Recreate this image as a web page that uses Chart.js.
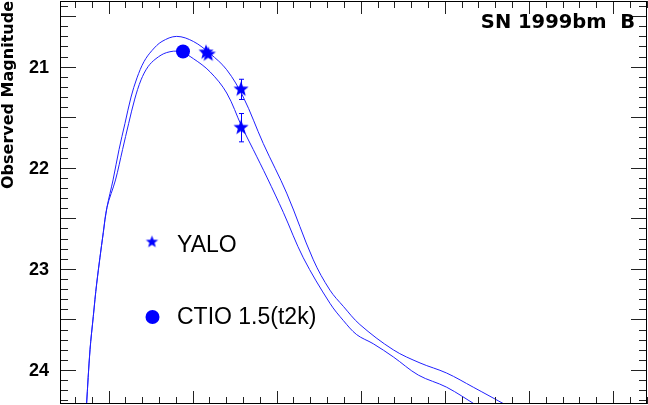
<!DOCTYPE html>
<html lang="en">
<head>
    <meta charset="UTF-8">
    <title>SN 1999bm B</title>
    <style>
        * { margin: 0; padding: 0; box-sizing: border-box; }
        body { background: #FFFFFF; width: 648px; height: 405px; overflow: hidden; }
        .chart-container { position: relative; width: 648px; height: 405px; }
    </style>
</head>
<body>
    <div class="chart-container">
        <canvas id="lc"></canvas>
    </div>

    <script src="https://cdn.jsdelivr.net/npm/chart.js@4.4.0/dist/chart.umd.min.js"></script>
    <script>
        // light curve fits (days, magnitude)
        const upperX = [-2.62, -2.20, -1.81, -1.40, -0.62, -0.18, 0.54, 1.25, 1.96, 2.68, 3.39, 4.22, 5.17, 6.36, 8.11, 10.09, 12.07, 14.06, 16.03, 18.41, 21.19, 24.36, 26.34, 27.93, 29.90, 33.87, 37.05, 40.22, 43.39, 47.36];
        const upperY = [24.35, 23.80, 23.47, 23.14, 22.64, 22.39, 22.12, 21.82, 21.56, 21.30, 21.11, 20.95, 20.84, 20.75, 20.70, 20.75, 20.87, 21.03, 21.30, 21.76, 22.25, 22.91, 23.21, 23.37, 23.55, 23.80, 23.93, 24.03, 24.17, 24.35];
        const lowerX = [-2.62, -2.20, -1.81, -1.40, -0.62, -0.18, 0.83, 1.67, 2.40, 3.12, 3.87, 4.70, 5.65, 6.92, 8.50, 10.09, 12.07, 14.06, 15.84, 17.22, 18.88, 20.79, 23.17, 26.34, 27.93, 29.52, 31.49, 33.87, 36.85, 40.22, 43.79];
        const lowerY = [24.35, 23.80, 23.47, 23.14, 22.64, 22.39, 22.12, 21.82, 21.56, 21.32, 21.13, 21.00, 20.92, 20.86, 20.85, 20.92, 21.05, 21.26, 21.59, 21.82, 22.10, 22.44, 22.89, 23.34, 23.51, 23.65, 23.74, 23.87, 24.05, 24.17, 24.35];

        // photometry
        const yaloX = [11.60, 11.87, 15.76, 15.76];
        const yaloY = [20.858, 20.878, 21.224, 21.603];
        const yaloErr = [0, 0, 0.10, 0.14];
        const ctioX = [8.86];
        const ctioY = [20.85];

        const yTickValues = [21, 22, 23, 24];
        const yTickLabels = ['21', '22', '23', '24'];
        const xRange = [-5.77, 64.05];
        const yRange = [20.35, 24.336];

        const blue = '#0000FF';
        const lineBlue = '#2020FF';

        function makeStar(r) {
            const c = document.createElement('canvas');
            const s = Math.ceil(r * 2) + 2;
            c.width = s; c.height = s;
            const g = c.getContext('2d');
            g.fillStyle = blue;
            g.beginPath();
            for (let i = 0; i < 10; i++) {
                const rr = i % 2 ? r * 0.42 : r;
                const a = -Math.PI / 2 + i * Math.PI / 5;
                g.lineTo(s / 2 + rr * Math.cos(a), s / 2 + rr * Math.sin(a));
            }
            g.closePath();
            g.fill();
            return c;
        }
        const bigStar = makeStar(8);
        const smallStar = makeStar(6.5);

        const pts = (xs, ys) => xs.map((x, i) => ({ x: x, y: ys[i] }));

        const decor = {
            id: 'decor',
            beforeDatasetsDraw(chart) {
                const ctx = chart.ctx, xs = chart.scales.x, ys = chart.scales.y;
                ctx.save();
                ctx.strokeStyle = blue;
                ctx.lineWidth = 1;
                yaloX.forEach((x, i) => {
                    if (!yaloErr[i]) return;
                    const px = Math.round(xs.getPixelForValue(x)) + 0.5;
                    const y1 = ys.getPixelForValue(yaloY[i] - yaloErr[i]);
                    const y2 = ys.getPixelForValue(yaloY[i] + yaloErr[i]);
                    ctx.beginPath();
                    ctx.moveTo(px, y1); ctx.lineTo(px, y2);
                    ctx.moveTo(px - 2.5, y1); ctx.lineTo(px + 2.5, y1);
                    ctx.moveTo(px - 2.5, y2); ctx.lineTo(px + 2.5, y2);
                    ctx.stroke();
                });
                ctx.restore();
            },
            afterDraw(chart) {
                const ctx = chart.ctx, a = chart.chartArea;
                const xs = chart.scales.x, ys = chart.scales.y;
                ctx.save();
                ctx.strokeStyle = '#222';
                ctx.lineWidth = 1;
                ctx.beginPath();
                // x ticks, top and bottom
                for (let v = -4; v <= 64; v += 2) {
                    const px = Math.round(xs.getPixelForValue(v)) + 0.5;
                    const len = v % 10 === 0 ? 13 : 7;
                    ctx.moveTo(px, a.bottom); ctx.lineTo(px, a.bottom - len);
                    ctx.moveTo(px, a.top); ctx.lineTo(px, a.top + len);
                }
                // y ticks, left and right
                for (let k = 204; k <= 243; k++) {
                    const py = Math.round(ys.getPixelForValue(k / 10)) + 0.5;
                    const len = k % 5 === 0 ? 16 : 8;
                    ctx.moveTo(a.left, py); ctx.lineTo(a.left + len, py);
                    ctx.moveTo(a.right, py); ctx.lineTo(a.right - len, py);
                }
                ctx.stroke();
                ctx.strokeStyle = '#000';
                ctx.strokeRect(a.left + 0.5, a.top + 0.5, a.right - a.left - 1, a.bottom - a.top - 1);

                // y tick labels
                ctx.fillStyle = '#000';
                ctx.font = 'bold 18px "Liberation Sans", Arial, sans-serif';
                ctx.textAlign = 'right';
                ctx.textBaseline = 'middle';
                yTickValues.forEach((v, i) => {
                    ctx.fillText(yTickLabels[i], 49, ys.getPixelForValue(v) + 1.5);
                });

                // y axis title
                ctx.save();
                ctx.translate(13, 0);
                ctx.rotate(-Math.PI / 2);
                ctx.font = 'bold 16px "DejaVu Sans", sans-serif';
                ctx.textAlign = 'right';
                ctx.textBaseline = 'alphabetic';
                ctx.fillText('Observed Magnitude', -1, 0);
                ctx.restore();

                // title
                ctx.font = 'bold 19.5px "DejaVu Sans", sans-serif';
                ctx.textAlign = 'right';
                ctx.textBaseline = 'alphabetic';
                ctx.fillText('SN 1999bm  B', 635, 28);

                // legend
                ctx.font = '23px "Liberation Sans", Arial, sans-serif';
                ctx.textAlign = 'left';
                ctx.fillText('YALO', 177, 252);
                ctx.fillText('CTIO 1.5(t2k)', 177, 323.5);
                Chart.helpers.drawPoint(ctx, { pointStyle: smallStar, radius: 7, rotation: 0, borderWidth: 0 }, 152, 242);
                ctx.fillStyle = blue;
                ctx.beginPath();
                ctx.arc(152.5, 317, 7, 0, Math.PI * 2);
                ctx.fill();
                ctx.restore();
            }
        };

        new Chart(document.getElementById('lc'), {
            type: 'scatter',
            data: {
                datasets: [
                    { label: 'YALO', data: pts(yaloX, yaloY), pointStyle: bigStar, pointRadius: 8, borderWidth: 0, backgroundColor: blue },
                    { label: 'CTIO 1.5(t2k)', data: pts(ctioX, ctioY), pointStyle: 'circle', pointRadius: 7, borderWidth: 0, backgroundColor: blue },
                    { label: 'fit 1', data: pts(upperX, upperY), showLine: true, pointRadius: 0, borderColor: lineBlue, borderWidth: 1, tension: 0.35 },
                    { label: 'fit 2', data: pts(lowerX, lowerY), showLine: true, pointRadius: 0, borderColor: lineBlue, borderWidth: 1, tension: 0.35 }
                ]
            },
            options: {
                responsive: true,
                maintainAspectRatio: false,
                animation: false,
                layout: { autoPadding: false, padding: { left: 60, top: 1, right: 1, bottom: 1 } },
                plugins: { legend: { display: false }, tooltip: { enabled: false } },
                scales: {
                    x: { type: 'linear', display: false, min: xRange[0], max: xRange[1] },
                    y: { type: 'linear', display: false, reverse: true, min: yRange[0], max: yRange[1] }
                }
            },
            plugins: [decor]
        });
    </script>
</body>
</html>
